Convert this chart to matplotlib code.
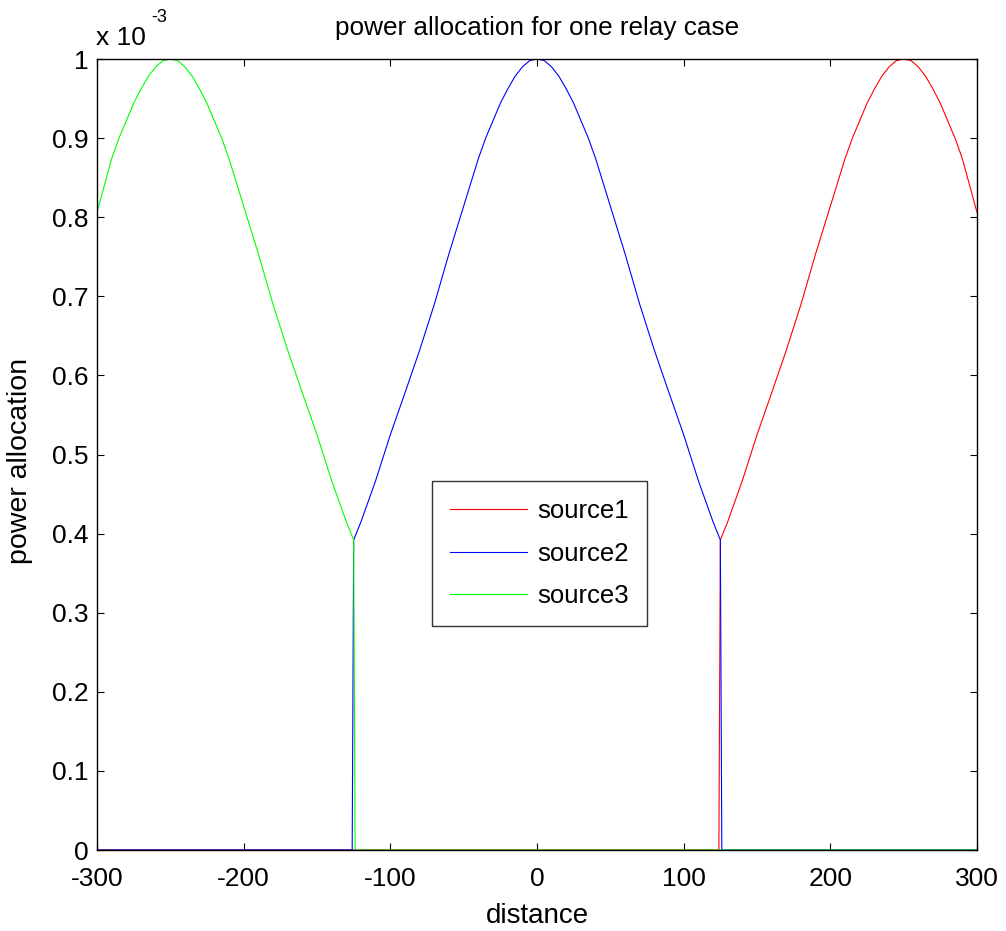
import numpy as np
import matplotlib.pyplot as plt

plt.rcParams['font.family'] = ['Liberation Sans', 'DejaVu Sans']

# power values are given in units of 1e-3
dist_1 = [-300, 124, 125, 130, 140, 150, 160, 170, 180, 190, 200, 210, 215, 220,
          225, 230, 235, 240, 245, 250, 255, 260, 265, 270, 275, 280, 285, 290, 300]
pow_1 = [0, 0, 0.392, 0.415, 0.467, 0.525, 0.578, 0.632, 0.690, 0.754, 0.814, 0.874,
         0.900, 0.922, 0.944, 0.962, 0.978, 0.990, 0.998, 1.0, 0.998, 0.990, 0.978,
         0.962, 0.944, 0.922, 0.900, 0.874, 0.806]

dist_2 = [-300, -126, -125, -120, -110, -100, -90, -80, -70, -60, -50, -40, -35, -30,
          -25, -20, -15, -10, -5, 0, 5, 10, 15, 20, 25, 30, 35, 40, 50, 60, 70, 80,
          90, 100, 110, 120, 125, 126, 300]
pow_2 = [0, 0, 0.392, 0.415, 0.467, 0.525, 0.578, 0.632, 0.690, 0.754, 0.814, 0.874,
         0.900, 0.922, 0.944, 0.962, 0.978, 0.990, 0.998, 1.0, 0.998, 0.990, 0.978,
         0.962, 0.944, 0.922, 0.900, 0.874, 0.814, 0.754, 0.690, 0.632, 0.578, 0.525,
         0.467, 0.415, 0.392, 0, 0]

dist_3 = [-300, -290, -285, -280, -275, -270, -265, -260, -255, -250, -245, -240, -235,
          -230, -225, -220, -215, -210, -200, -190, -180, -170, -160, -150, -140, -130,
          -125, -124, 300]
pow_3 = [0.806, 0.874, 0.900, 0.922, 0.944, 0.962, 0.978, 0.990, 0.998, 1.0, 0.998,
         0.990, 0.978, 0.962, 0.944, 0.922, 0.900, 0.874, 0.814, 0.754, 0.690, 0.632,
         0.578, 0.525, 0.467, 0.415, 0.392, 0, 0]

xticks = [-300, -200, -100, 0, 100, 200, 300]
yticks = [0, 0.1, 0.2, 0.3, 0.4, 0.5, 0.6, 0.7, 0.8, 0.9, 1.0]
ytick_labels = ['0', '0.1', '0.2', '0.3', '0.4', '0.5', '0.6', '0.7', '0.8', '0.9', '1']

scale = 1e-3

fig = plt.figure(figsize=(10.06, 9.31), dpi=100)
ax = fig.add_axes([0.0964, 0.0870, 0.8748, 0.8496])

ax.plot(dist_1, np.array(pow_1) * scale, color=(1, 0, 0), lw=0.8, label='source1')
ax.plot(dist_2, np.array(pow_2) * scale, color=(0, 0, 1), lw=0.8, label='source2')
ax.plot(dist_3, np.array(pow_3) * scale, color=(0, 1, 0), lw=0.8, label='source3')

ax.set_xlim(-300, 300)
ax.set_ylim(0, 1e-3)
ax.set_xticks(xticks)
ax.set_xticklabels([str(t) for t in xticks])
ax.set_yticks(np.array(yticks) * scale)
ax.set_yticklabels(ytick_labels)
ax.tick_params(direction='in', top=True, right=True, length=5, width=0.8,
               labelsize=19)
ax.tick_params(axis='x', pad=12)
ax.tick_params(axis='y', pad=6)
for s in ax.spines.values():
    s.set_linewidth(1.0)

ax.set_title('power allocation for one relay case', fontsize=18.8, pad=17)
ax.set_xlabel('distance', fontsize=20, labelpad=9)
ax.set_ylabel('power allocation', fontsize=20.5)
ax.yaxis.set_label_coords(-0.073, 0.492)

# exponent shown above the y axis
fig.text(0.095, 0.952, 'x 10', fontsize=19, ha='left', va='baseline')
fig.text(0.150, 0.976, '-3', fontsize=13, ha='left', va='baseline')

leg = ax.legend(loc='upper left', bbox_to_anchor=(0.381, 0.466), fontsize=18.5,
                handlelength=3.0, frameon=True, fancybox=False, borderpad=0.7,
                labelspacing=0.72, handletextpad=0.4, borderaxespad=0)
leg.get_frame().set_edgecolor('black')
leg.get_frame().set_linewidth(1.0)

fig.savefig('out.png', dpi=100)
